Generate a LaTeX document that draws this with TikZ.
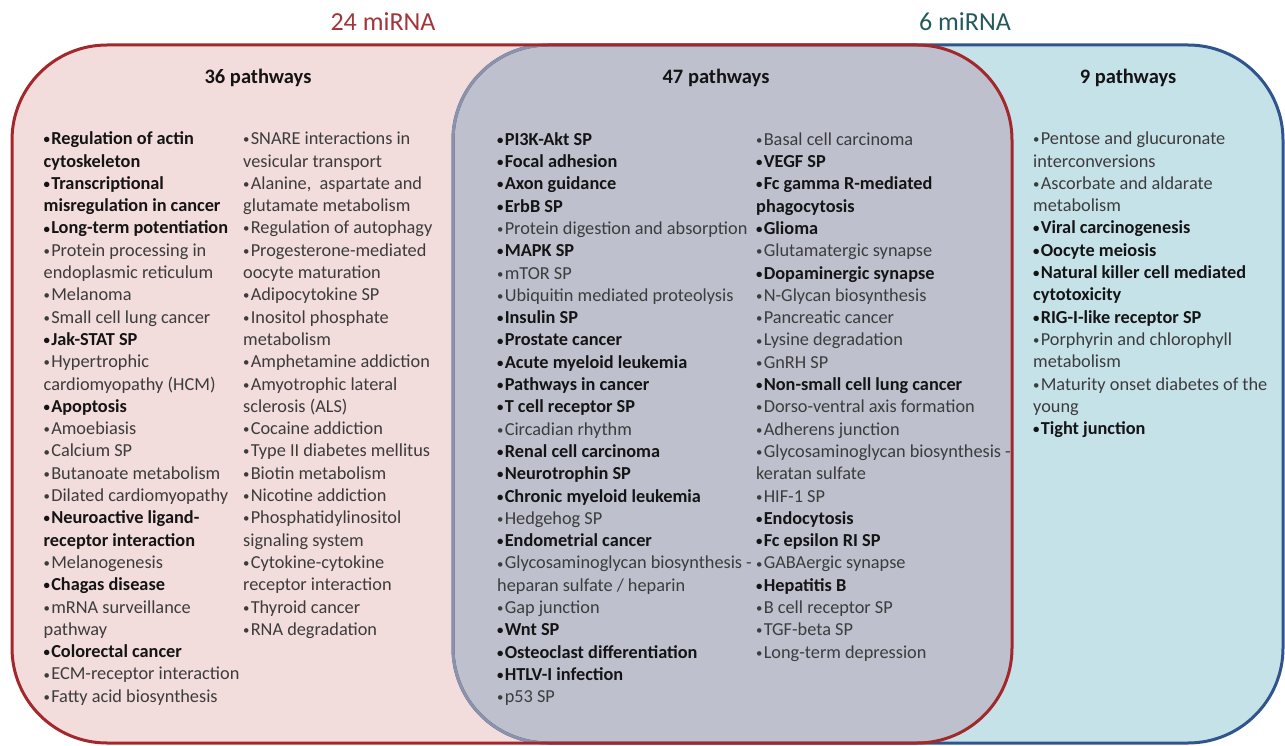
\documentclass[tikz,border=0pt]{standalone}
\usepackage{fontspec}
\setmainfont{Carlito}
\definecolor{pinkfill}{HTML}{F2DCDC}
\definecolor{redline}{HTML}{A3282C}
\definecolor{grayfill}{HTML}{BEC1CD}
\definecolor{bluefill}{HTML}{C6E2E9}
\definecolor{blueline}{HTML}{30548C}
\definecolor{bluegrayline}{HTML}{8C92AA}
\definecolor{txt}{HTML}{3C3C3C}
\definecolor{boldtxt}{HTML}{141414}
\definecolor{redlabel}{HTML}{A3343A}
\definecolor{teallabel}{HTML}{24595E}
\newcommand{\bld}[1]{{\bfseries\color{boldtxt}#1}}
\newcommand{\bul}{\raisebox{0.05em}{\scalebox{0.7}{•}}\kern1.2pt}
\tikzset{
  col/.style={anchor=north west, inner sep=0pt, align=left, font=\fontsize{18.3}{22.3}\selectfont, text=txt},
  hdr/.style={anchor=base, inner sep=0pt, font=\fontsize{20.5}{24}\selectfont\bfseries, text=boldtxt},
  mir/.style={anchor=base, inner sep=0pt, font=\fontsize{26}{30}\selectfont},
  area/.style={rounded corners=95pt},
  edge/.style={line width=3pt, rounded corners=95pt}
}
\begin{document}
\begin{tikzpicture}[x=1pt,y=-1pt]
\useasboundingbox (0,0) rectangle (1285,746);
% areas
\fill[pinkfill, area] (12,45) rectangle (1012,743);
\fill[bluefill, area] (453,45) rectangle (1283,743);
\begin{scope}
  \clip[area] (12,45) rectangle (1012,743);
  \fill[grayfill, area] (453,45) rectangle (1283,743);
\end{scope}
\draw[blueline, edge] (453,45) rectangle (1283,743);
\begin{scope}
  \clip[area] (12,45) rectangle (1012,743);
  \draw[bluegrayline, edge] (453,45) rectangle (1283,743);
\end{scope}
\draw[redline, edge] (12,45) rectangle (1012,743);

% labels
\node[mir, text=redlabel] (m24) at (383,31) {24 miRNA};
\node[mir, text=teallabel] (m6) at (965,31) {6 miRNA};
\node[hdr] (h36) at (258,84) {36 pathways};
\node[hdr] (h47) at (716,84) {47 pathways};
\node[hdr] (h9) at (1128,84) {9 pathways};

% left column 1
\node[col] (c1) at (43.5,128.9) {\strut\bld{\bul Regulation of actin}\\
\bld{cytoskeleton}\\
\bld{\bul Transcriptional}\\
\bld{misregulation in cancer}\\
\bld{\bul Long-term potentiation}\\
\bul Protein processing in\\
endoplasmic reticulum\\
\bul Melanoma\\
\bul Small cell lung cancer\\
\bld{\bul Jak-STAT SP}\\
\bul Hypertrophic\\
cardiomyopathy (HCM)\\
\bld{\bul Apoptosis}\\
\bul Amoebiasis\\
\bul Calcium SP\\
\bul Butanoate metabolism\\
\bul Dilated cardiomyopathy\\
\bld{\bul Neuroactive ligand-}\\
\bld{receptor interaction}\\
\bul Melanogenesis\\
\bld{\bul Chagas disease}\\
\bul mRNA surveillance\\
pathway\\
\bld{\bul Colorectal cancer}\\
\bul ECM-receptor interaction\\
\bul Fatty acid biosynthesis};

% left column 2
\node[col] (c2) at (243,128.9) {\strut\bul SNARE interactions in\\
vesicular transport\\
\bul Alanine,~ aspartate and\\
glutamate metabolism\\
\bul Regulation of autophagy\\
\bul Progesterone-mediated\\
oocyte maturation\\
\bul Adipocytokine SP\\
\bul Inositol phosphate\\
metabolism\\
\bul Amphetamine addiction\\
\bul Amyotrophic lateral\\
sclerosis (ALS)\\
\bul Cocaine addiction\\
\bul Type II diabetes mellitus\\
\bul Biotin metabolism\\
\bul Nicotine addiction\\
\bul Phosphatidylinositol\\
signaling system\\
\bul Cytokine-cytokine\\
receptor interaction\\
\bul Thyroid cancer\\
\bul RNA degradation};

% middle column 1
\node[col] (c3) at (497,129.4) {\strut\bld{\bul PI3K-Akt SP}\\
\bld{\bul Focal adhesion}\\
\bld{\bul Axon guidance}\\
\bld{\bul ErbB SP}\\
\bul Protein digestion and absorption\\
\bld{\bul MAPK SP}\\
\bul mTOR SP\\
\bul Ubiquitin mediated proteolysis\\
\bld{\bul Insulin SP}\\
\bld{\bul Prostate cancer}\\
\bld{\bul Acute myeloid leukemia}\\
\bld{\bul Pathways in cancer}\\
\bld{\bul T cell receptor SP}\\
\bul Circadian rhythm\\
\bld{\bul Renal cell carcinoma}\\
\bld{\bul Neurotrophin SP}\\
\bld{\bul Chronic myeloid leukemia}\\
\bul Hedgehog SP\\
\bld{\bul Endometrial cancer}\\
\bul Glycosaminoglycan biosynthesis -\\
heparan sulfate / heparin\\
\bul Gap junction\\
\bld{\bul Wnt SP}\\
\bld{\bul Osteoclast differentiation}\\
\bld{\bul HTLV-I infection}\\
\bul p53 SP};

% middle column 2
\node[col] (c4) at (756,129.4) {\strut\bul Basal cell carcinoma\\
\bld{\bul VEGF SP}\\
\bld{\bul Fc gamma R-mediated}\\
\bld{phagocytosis}\\
\bld{\bul Glioma}\\
\bul Glutamatergic synapse\\
\bld{\bul Dopaminergic synapse}\\
\bul N-Glycan biosynthesis\\
\bul Pancreatic cancer\\
\bul Lysine degradation\\
\bul GnRH SP\\
\bld{\bul Non-small cell lung cancer}\\
\bul Dorso-ventral axis formation\\
\bul Adherens junction\\
\bul Glycosaminoglycan biosynthesis -\\
keratan sulfate\\
\bul HIF-1 SP\\
\bld{\bul Endocytosis}\\
\bld{\bul Fc epsilon RI SP}\\
\bul GABAergic synapse\\
\bld{\bul Hepatitis B}\\
\bul B cell receptor SP\\
\bul TGF-beta SP\\
\bul Long-term depression};

% right column
\node[col] (c5) at (1033,128.9) {\strut\bul Pentose and glucuronate\\
interconversions\\
\bul Ascorbate and aldarate\\
metabolism\\
\bld{\bul Viral carcinogenesis}\\
\bld{\bul Oocyte meiosis}\\
\bld{\bul Natural killer cell mediated}\\
\bld{cytotoxicity}\\
\bld{\bul RIG-I-like receptor SP}\\
\bul Porphyrin and chlorophyll\\
metabolism\\
\bul Maturity onset diabetes of the\\
young\\
\bld{\bul Tight junction}};
\end{tikzpicture}
\end{document}
